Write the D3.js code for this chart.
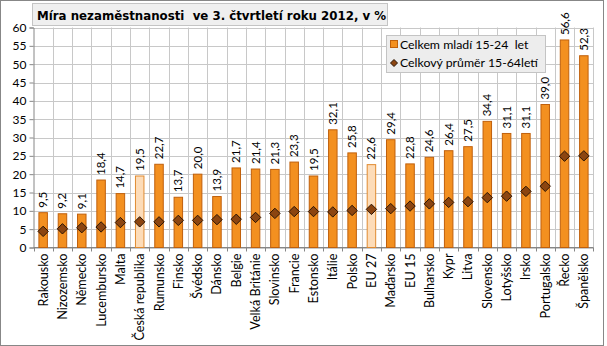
<!DOCTYPE html>
<html>
<head>
<meta charset="utf-8">
<script src="https://cdn.jsdelivr.net/npm/d3@7"></script>
<style>
  html, body { margin: 0; padding: 0; background: #fff; }
  svg { display: block; }
  text { white-space: pre; }
</style>
</head>
<body>
<svg id="chart" width="607" height="346"></svg>
<script>
// Youth (15-24) and overall (15-64) unemployment rate, Q3 2012, %
const countries = ["Rakousko","Nizozemsko","Německo","Lucembursko","Malta","Česká republika","Rumunsko","Finsko","Švédsko","Dánsko","Belgie","Velká Británie","Slovinsko","Francie","Estonsko","Itálie","Polsko","EU 27","Maďarsko","EU 15","Bulharsko","Kypr","Litva","Slovensko","Lotyšsko","Irsko","Portugalsko","Řecko","Španělsko"];
const youth = [9.5,9.2,9.1,18.4,14.7,19.5,22.7,13.7,20.0,13.9,21.7,21.4,21.3,23.3,19.5,32.1,25.8,22.6,29.4,22.8,24.6,26.4,27.5,34.4,31.1,31.1,39.0,56.6,52.3];
const overall = [4.4,5.1,5.4,5.6,6.8,7.0,7.0,7.4,7.4,7.6,7.7,8.2,9.3,9.8,9.8,9.7,10.1,10.4,10.6,11.3,11.9,12.3,12.5,13.6,14.0,15.3,16.7,24.9,25.0];
const highlighted = ["Česká republika","EU 27"];
const yTicks = [0,5,10,15,20,25,30,35,40,45,50,55,60];
const titleText = "Míra nezaměstnanosti  ve 3. čtvrtletí roku 2012, v %";
const legendLabels = ["Celkem mladí 15-24  let","Celkový průměr 15-64letí"];

const svg = d3.select("#chart");
const W = 607, H = 346;
const m = {left: 33.5, right: 593.5, top: 27.5, bottom: 247.5};
const font = "Lato, 'Open Sans', sans-serif";

// outer frame
svg.append("rect").attr("x", 0.5).attr("y", 0.5).attr("width", W - 4).attr("height", H - 1)
  .attr("fill", "#fff").attr("stroke", "#878787");

const x = d3.scaleBand().domain(countries).range([m.left, m.right]).paddingInner(0).paddingOuter(0);
const y = d3.scaleLinear().domain([0, 60]).range([m.bottom, m.top]);
const fmt = v => d3.format(".1f")(v).replace(".", ",");

// grid
const grid = svg.append("g").attr("stroke", "#c8c8c8").attr("stroke-width", 1);
yTicks.forEach(t => grid.append("line").attr("x1", m.left).attr("x2", m.right)
  .attr("y1", Math.round(y(t)) + 0.5).attr("y2", Math.round(y(t)) + 0.5));
countries.forEach((c, i) => {
  const gx = Math.round(x(c) + x.bandwidth()) + 0.5;
  grid.append("line").attr("x1", gx).attr("x2", gx).attr("y1", m.top).attr("y2", m.bottom);
});

// y axis
const yAxis = svg.append("g").attr("transform", `translate(${m.left},0)`)
  .call(d3.axisLeft(y).tickValues(yTicks).tickSize(4).tickPadding(3).tickFormat(d3.format("d")));
yAxis.select(".domain").attr("stroke", "#868686");
yAxis.selectAll(".tick line").attr("stroke", "#868686");
yAxis.selectAll("text").attr("font-family", font).attr("font-size", 12).attr("fill", "#000");

// x axis with boundary ticks
const xAxisG = svg.append("g").attr("transform", `translate(0,${m.bottom})`);
xAxisG.append("line").attr("x1", m.left).attr("x2", m.right).attr("stroke", "#868686");
countries.forEach(c => {
  const gx = Math.round(x(c)) + 0.5;
  xAxisG.append("line").attr("x1", gx).attr("x2", gx).attr("y1", 0).attr("y2", 4).attr("stroke", "#868686");
});
xAxisG.append("line").attr("x1", m.right).attr("x2", m.right).attr("y1", 0).attr("y2", 4).attr("stroke", "#868686");
countries.forEach(c => {
  const cx = x(c) + x.bandwidth() / 2;
  xAxisG.append("text").attr("transform", `translate(${cx + 4.5},6) rotate(-90)`)
    .attr("text-anchor", "end").attr("font-family", font).attr("font-size", 12.6).attr("fill", "#000")
    .text(c);
});

// bars
const bw = 8.5;
svg.append("g").selectAll("rect").data(countries).join("rect")
  .attr("x", (d) => x(d) + x.bandwidth() / 2 - bw / 2)
  .attr("y", (d, i) => y(youth[i]))
  .attr("width", bw)
  .attr("height", (d, i) => y(0) - y(youth[i]))
  .attr("fill", d => highlighted.includes(d) ? "#fddcb8" : "#f39020")
  .attr("stroke", d => highlighted.includes(d) ? "#e08a30" : "#c0600c")
  .attr("stroke-width", 1);

// value labels
svg.append("g").selectAll("text").data(countries).join("text")
  .attr("transform", (d, i) => `translate(${x(d) + x.bandwidth() / 2 + 4},${y(youth[i]) - 5}) rotate(-90)`)
  .attr("font-family", font).attr("font-size", 11.5).attr("fill", "#000")
  .text((d, i) => fmt(youth[i]));

// diamonds for the overall rate
const ds = 5.2;
svg.append("g").selectAll("path").data(countries).join("path")
  .attr("d", (d, i) => {
    const cx = x(d) + x.bandwidth() / 2, cy = y(overall[i]);
    return `M${cx},${cy - ds}L${cx + ds},${cy}L${cx},${cy + ds}L${cx - ds},${cy}Z`;
  })
  .attr("fill", "#8c4510").attr("stroke", "#2a1404").attr("stroke-width", 1);

// title
const title = svg.append("g");
title.append("rect").attr("x", 32.5).attr("y", 3.5).attr("width", 355).attr("height", 22)
  .attr("fill", "#efefef").attr("stroke", "#c4c4c4");
title.append("text").attr("x", 37).attr("y", 19.5).attr("font-family", "'DejaVu Sans', Verdana, sans-serif")
  .attr("font-weight", "bold").attr("font-size", 11.8).attr("fill", "#000").text(titleText);

// legend
const lg = svg.append("g");
lg.append("rect").attr("x", 386.5).attr("y", 35.5).attr("width", 159).attr("height", 37)
  .attr("fill", "#ededed").attr("stroke", "#c4c4c4");
lg.append("rect").attr("x", 390.5).attr("y", 40.5).attr("width", 7).attr("height", 7)
  .attr("fill", "#f39020").attr("stroke", "#c0600c");
lg.append("path").attr("d", "M394,59.5L397.5,63L394,66.5L390.5,63Z")
  .attr("fill", "#8c4510").attr("stroke", "#2a1404");
lg.append("text").attr("x", 400).attr("y", 48.5).attr("font-family", font).attr("font-size", 12.3).text(legendLabels[0]);
lg.append("text").attr("x", 400).attr("y", 67).attr("font-family", font).attr("font-size", 12.3).text(legendLabels[1]);
</script>
</body>
</html>
